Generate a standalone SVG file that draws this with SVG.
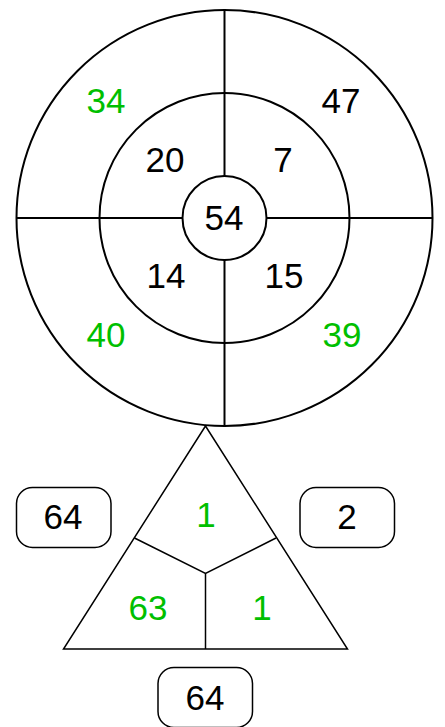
<svg xmlns="http://www.w3.org/2000/svg" width="445" height="727" viewBox="0 0 445 727">
<style>
.ring{fill:#fff;stroke:#000;stroke-width:2}
.ln{stroke:#000;stroke-width:2;fill:none}
.tri{fill:#fff;stroke:#000;stroke-width:1.5}
.tl{stroke:#000;stroke-width:1.5;fill:none}
.box{fill:#fff;stroke:#000;stroke-width:1.5}
text{font-family:"Liberation Sans",Arial,sans-serif;font-size:35px;text-anchor:middle}
.k{fill:#000}
.g{fill:#00bf00}
</style>
<rect width="445" height="727" fill="#fff"/>
<g id="outer-ring"><circle class="ring" cx="224.5" cy="218" r="208"/></g>
<g id="inner-ring"><circle class="ring" cx="224.5" cy="218" r="125"/></g>
<g id="connectors">
<line class="ln" x1="224.5" y1="10" x2="224.5" y2="176"/>
<line class="ln" x1="224.5" y1="260" x2="224.5" y2="426"/>
<line class="ln" x1="16.5" y1="218" x2="182.5" y2="218"/>
<line class="ln" x1="266.5" y1="218" x2="432.5" y2="218"/>
</g>
<g id="center"><circle class="ring" cx="224.5" cy="218" r="42"/><text class="k" x="224" y="230">54</text></g>
<g id="q34"><text class="g" x="106" y="113">34</text></g>
<g id="q47"><text class="k" x="341" y="113">47</text></g>
<g id="q20"><text class="k" x="165" y="172">20</text></g>
<g id="q7"><text class="k" x="283" y="172">7</text></g>
<g id="q14"><text class="k" x="166" y="288">14</text></g>
<g id="q15"><text class="k" x="284" y="288">15</text></g>
<g id="q40"><text class="g" x="106" y="347">40</text></g>
<g id="q39"><text class="g" x="342" y="347">39</text></g>
<g id="triangle">
<polygon class="tri" points="205.5,426 347.5,649 63.5,649"/>
<polyline class="tl" points="134.5,538 205.5,573.5 276,538"/>
<line class="tl" x1="205.5" y1="573.5" x2="205.5" y2="649"/>
<text class="g" x="206" y="527">1</text>
<text class="g" x="148" y="620">63</text>
<text class="g" x="262" y="620">1</text>
</g>
<g id="box-left"><rect class="box" x="16.5" y="487.5" width="94.5" height="60" rx="16"/><text class="k" x="63" y="529">64</text></g>
<g id="box-right"><rect class="box" x="300" y="487.5" width="94.5" height="60" rx="16"/><text class="k" x="347" y="529">2</text></g>
<g id="box-bottom"><rect class="box" x="158" y="667.5" width="94.5" height="60" rx="16"/><text class="k" x="205" y="710">64</text></g>
</svg>
